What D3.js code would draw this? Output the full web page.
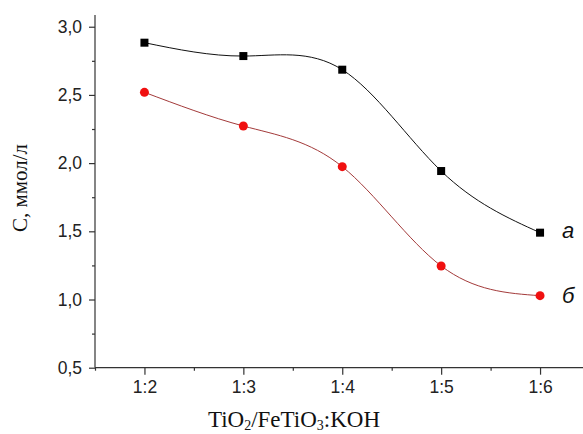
<!DOCTYPE html>
<html>
<head>
<meta charset="utf-8">
<script src="https://cdn.jsdelivr.net/npm/d3@7"></script>
<style>
  html, body { margin: 0; padding: 0; background: #fff; }
  svg { display: block; }
</style>
</head>
<body>
<svg id="chart" width="583" height="434"></svg>
<script>
const categories = ["1:2", "1:3", "1:4", "1:5", "1:6"];
const seriesA = [2.883, 2.785, 2.685, 1.942, 1.49];
const seriesB = [2.519, 2.272, 1.974, 1.246, 1.028];
const yTicks = [0.5, 1.0, 1.5, 2.0, 2.5, 3.0];
const yTickLabels = ["0,5", "1,0", "1,5", "2,0", "2,5", "3,0"];
const yMinorTicks = [0.75, 1.25, 1.75, 2.25, 2.75];
const seriesLabels = ["а", "б"];

const svg = d3.select("#chart");
const x = d3.scaleLinear().domain([-0.5, 4.5]).range([95, 589.5]);
const y = d3.scaleLinear().domain([0.5, 3.086]).range([367.7, 15]);

// Axes
const yAxis = d3.axisLeft(y).tickValues(yTicks).tickSize(6).tickPadding(7)
  .tickFormat((d, i) => yTickLabels[i]);
const gy = svg.append("g").attr("transform", "translate(95,0)").call(yAxis);
gy.select(".domain").attr("d", `M0,${y(0.5)}V${y(3.086)}`);
gy.selectAll("text").attr("font-family", "Arial, 'Liberation Sans', sans-serif")
  .attr("font-size", 17.5).attr("fill", "#222");
svg.append("g").attr("transform", "translate(95,0)")
  .call(d3.axisLeft(y).tickValues(yMinorTicks).tickSize(3).tickFormat(""))
  .select(".domain").remove();

const xAxis = d3.axisBottom(x).tickValues(d3.range(categories.length)).tickSize(7).tickPadding(6)
  .tickFormat(i => categories[i]);
const gx = svg.append("g").attr("transform", `translate(0,${y(0.5)})`).call(xAxis);
gx.select(".domain").attr("d", `M${x(-0.5)},0H${x(4.5)}`);
gx.selectAll("text").attr("font-family", "Arial, 'Liberation Sans', sans-serif")
  .attr("font-size", 17.5).attr("fill", "#222");
svg.append("g").attr("transform", `translate(0,${y(0.5)})`)
  .call(d3.axisBottom(x).tickValues([-0.5, 0.5, 1.5, 2.5, 3.5]).tickSize(3).tickFormat(""))
  .select(".domain").remove();

svg.selectAll(".domain, .tick line").attr("stroke", "#333").attr("stroke-width", 1.2);

// Lines
const line = d3.line().x((d, i) => x(i)).y(d => y(d)).curve(d3.curveNatural);
svg.append("path").datum(seriesA).attr("d", line)
  .attr("fill", "none").attr("stroke", "#111").attr("stroke-width", 1);
svg.append("path").datum(seriesB).attr("d", line)
  .attr("fill", "none").attr("stroke", "#a33a3a").attr("stroke-width", 1);

// Markers
svg.selectAll(".sqA").data(seriesA).enter().append("rect")
  .attr("x", (d, i) => x(i) - 4).attr("y", d => y(d) - 4)
  .attr("width", 8).attr("height", 8).attr("fill", "#000");
svg.selectAll(".ciB").data(seriesB).enter().append("circle")
  .attr("cx", (d, i) => x(i)).attr("cy", d => y(d)).attr("r", 4.5).attr("fill", "#f01010");

// Series labels
const lastIdx = categories.length - 1;
svg.append("text").attr("x", x(lastIdx) + 22).attr("y", y(seriesA[lastIdx]) + 5)
  .attr("font-family", "Arial, 'Liberation Sans', sans-serif").attr("font-style", "italic")
  .attr("font-size", 22).attr("fill", "#111").text(seriesLabels[0]);
svg.append("text").attr("x", x(lastIdx) + 22).attr("y", y(seriesB[lastIdx]) + 7)
  .attr("font-family", "Arial, 'Liberation Sans', sans-serif").attr("font-style", "italic")
  .attr("font-size", 22).attr("fill", "#111").text(seriesLabels[1]);

// Axis titles
svg.append("text").attr("transform", "translate(27,188) rotate(-90)")
  .attr("text-anchor", "middle").attr("font-family", "'Liberation Serif', 'Times New Roman', serif")
  .attr("font-size", 21).attr("fill", "#111").text("С, ммол/л");

const xt = svg.append("text").attr("x", 294).attr("y", 427).attr("text-anchor", "middle")
  .attr("font-family", "'Liberation Serif', 'Times New Roman', serif")
  .attr("font-size", 23).attr("fill", "#111");
xt.append("tspan").text("TiO");
xt.append("tspan").attr("font-size", 14).attr("dy", 3).text("2");
xt.append("tspan").attr("dy", -3).text("/FeTiO");
xt.append("tspan").attr("font-size", 14).attr("dy", 3).text("3");
xt.append("tspan").attr("dy", -3).text(":KOH");
</script>
</body>
</html>
